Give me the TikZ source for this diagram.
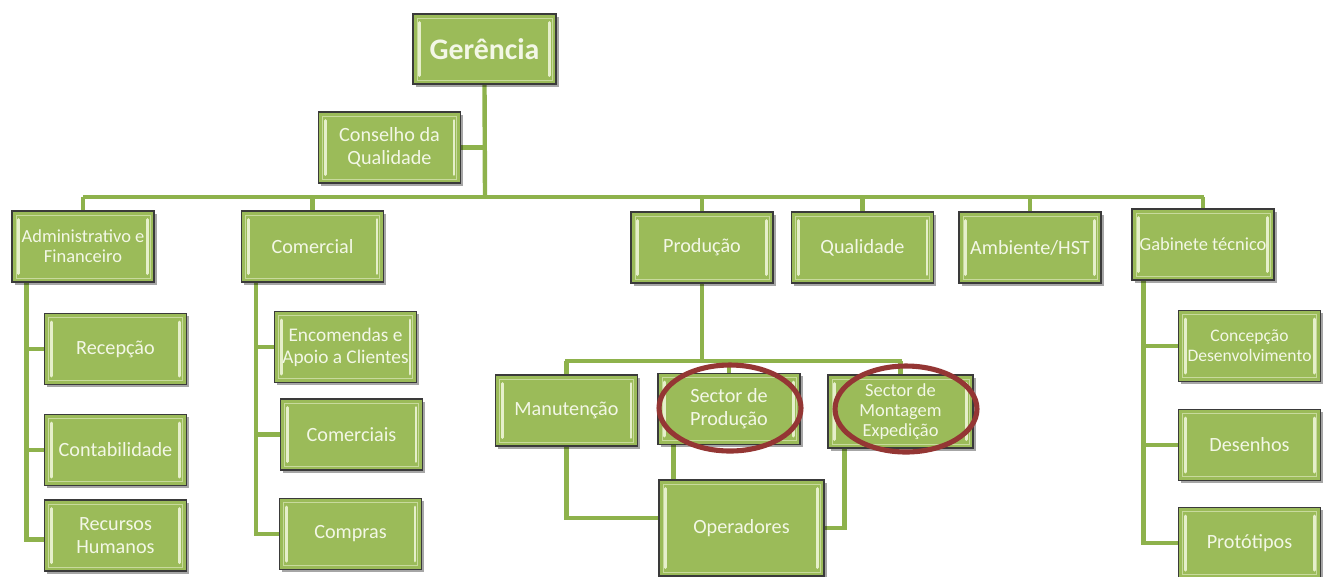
\documentclass[tikz,border=0pt]{standalone}
\usepackage{fontspec}
\setmainfont{Carlito}
\usetikzlibrary{shapes.geometric,shadows,backgrounds,calc}
\definecolor{boxgreen}{HTML}{9BBB59}
\definecolor{linegreen}{HTML}{8EB24C}
\definecolor{boxedge}{HTML}{3A3A3A}
\definecolor{txtc}{HTML}{F3F7E6}
\definecolor{bevelc}{HTML}{E6EFCB}
\definecolor{ringc}{HTML}{943634}
\tikzset{
  box/.style={draw=boxedge, line width=0.8pt, fill=boxgreen,
    minimum width=2.84cm, minimum height=1.42cm, inner sep=1pt,
    align=center, text=txtc, font=\fontsize{11.5}{13}\selectfont,
    drop shadow={shadow xshift=1.6pt, shadow yshift=-1.6pt, opacity=0.35, fill=black},
    path picture={
      \draw[bevelc!60!boxgreen, line width=0.5pt]
        ([shift={(0.08cm,-0.08cm)}]path picture bounding box.north west)
        rectangle ([shift={(-0.08cm,0.08cm)}]path picture bounding box.south east);
      \draw[bevel]
        ([shift={(0.13cm,-0.17cm)}]path picture bounding box.north west) --
        ([shift={(0.13cm,0.17cm)}]path picture bounding box.south west);
      \draw[bevel]
        ([shift={(-0.13cm,-0.17cm)}]path picture bounding box.north east) --
        ([shift={(-0.13cm,0.17cm)}]path picture bounding box.south east);
    }},
  small/.style={font=\fontsize{10.5}{11.5}\selectfont},
  conn/.style={draw=linegreen, line width=2.5pt},
  bevel/.style={draw=bevelc, line width=1.7pt, line cap=round},
  ring/.style={draw=ringc, line width=2.9pt, ellipse, inner sep=0,
    minimum width=2.84cm, minimum height=1.72cm},
}
\begin{document}
\begin{tikzpicture}[x=0.02cm, y=-0.02cm]
\useasboundingbox (0,0) rectangle (1327,576);

% top
\node[box, minimum width=2.86cm, minimum height=1.40cm,
      font=\fontsize{17}{19}\selectfont\bfseries] (ger) at (484.5,49) {Gerência};
\node[box] (cons) at (389.5,147.5) {Conselho da\\Qualidade};

% first level
\node[box, small] (adm) at (83,246.5) {Administrativo e\\Financeiro};
\node[box] (com) at (312.5,246.5) {Comercial};
\node[box] (prod) at (702,247.5) {Produção};
\node[box] (qual) at (862.5,247.5) {Qualidade};
\node[box] (amb) at (1030,247.5) {Ambiente/HST};
\node[box, small] (gab) at (1203,244.5) {Gabinete técnico};

% administrativo
\node[box] (rec) at (115.5,349) {Recepção};
\node[box] (cont) at (115.5,450) {Contabilidade};
\node[box] (rh) at (115.5,535.5) {Recursos\\Humanos};

% comercial
\node[box, font=\fontsize{11}{12.5}\selectfont] (enc) at (345.5,347) {Encomendas e\\Apoio a Clientes};
\node[box] (comc) at (351.5,434.5) {Comerciais};
\node[box] (compr) at (350.5,534) {Compras};

% producao
\node[box] (man) at (566.5,410.5) {Manutenção};
\node[box] (sp) at (729,409) {Sector de\\Produção};
\node[box, small, minimum width=2.9cm, minimum height=1.46cm] (sm) at (900.5,411.5) {Sector de\\Montagem\\Expedição};
\node[box, minimum width=3.3cm, minimum height=1.92cm] (op) at (741.5,528) {Operadores};

% gabinete
\node[box, font=\fontsize{10}{11.5}\selectfont] (conc) at (1249.5,346) {Concepção\\Desenvolvimento};
\node[box] (des) at (1249.5,445) {Desenhos};
\node[box] (prot) at (1249.5,543) {Protótipos};

% rings
\node[ring] (ring1) at (730,408) {};
\node[ring] (ring2) at (906,409) {};

\begin{scope}[on background layer]
  \coordinate (bL) at (83,197);
  \coordinate (bM) at (485,197);
  \coordinate (bR) at (1204,197);
  \draw[conn] (ger.south) -- (bM);
  \draw[conn] (cons.east) -- (cons.east -| bM);
  \draw[conn] (bL) -- (bR);
  \foreach \n in {adm,com,prod,qual,amb,gab}
    \draw[conn] (\n.north |- bM) -- (\n.north);
  % administrativo
  \foreach \n in {rec,cont}
    \draw[conn] ([xshift=0.3cm]adm.south west) |- (\n.west);
  \draw[conn] ([xshift=0.3cm]adm.south west) |- ([yshift=-0.08cm]rh.west);
  % comercial
  \foreach \n in {enc,comc}
    \draw[conn] ([xshift=0.3cm]com.south west) |- (\n.west);
  \draw[conn] ([xshift=0.3cm]com.south west) |- (compr.west);
  % gabinete
  \foreach \n in {conc,des,prot}
    \draw[conn] ([xshift=0.24cm]gab.south west) |- (\n.west);
  % producao
  \coordinate (pbus) at (702,361);
  \draw[conn] (prod.south) -- (pbus);
  \draw[conn] ([xshift=-0.03cm]man.north |- pbus) -- ([xshift=0.03cm]sm.north |- pbus);
  \foreach \n in {man,sp,sm}
    \draw[conn] (\n.north |- pbus) -- (\n.north);
  \draw[conn] (man.south) |- ([yshift=0.2cm]op.west);
  \draw[conn] ([xshift=0.32cm]sp.south west) -- ([xshift=0.32cm]sp.south west |- op.north);
  \draw[conn] ([xshift=0.34cm]sm.south west) |- (op.east);
\end{scope}
\end{tikzpicture}
\end{document}
